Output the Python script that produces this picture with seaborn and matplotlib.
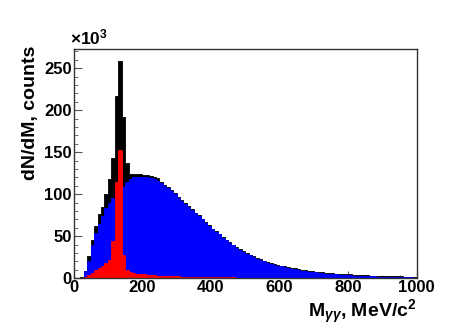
import pandas as pd
import matplotlib
matplotlib.use("Agg")
import matplotlib.pyplot as plt
from matplotlib.ticker import MultipleLocator
import seaborn as sns

# 10 MeV bins from 0 to 1000 MeV/c^2, counts in units of 10^3
bin_edges = list(range(0, 1001, 10))

total = [
    0, 0, 1, 9, 26, 45, 62, 76, 85, 100,
    118, 143, 217, 259, 192, 137, 124, 124, 124, 124,
    123, 123, 122, 121, 119, 115, 111, 108, 105, 101,
    97, 93, 89, 86, 82, 78, 75, 71, 67, 63,
    59, 56, 53, 49, 46, 43, 40, 37, 35, 32,
    30, 28, 26, 24, 22.5, 21, 19.5, 18, 17, 16,
    15, 14, 13, 12, 11.5, 10.8, 10.1, 9.5, 8.9, 8.3,
    7.8, 7.3, 6.9, 6.5, 6.1, 5.8, 5.5, 5.2, 4.9, 4.6,
    4.4, 4.1, 3.9, 3.7, 3.5, 3.3, 3.1, 3.0, 2.8, 2.7,
    2.5, 2.4, 2.3, 2.2, 2.1, 2.0, 1.9, 1.8, 1.7, 1.6,
]

background = [
    0, 0, 0.5, 9, 21, 40, 54, 65, 74, 83,
    89, 95, 101, 105, 109, 115, 118, 120, 121, 121,
    120, 120, 119, 118, 116, 113, 110, 107, 104, 100,
    96, 92, 88, 85, 81, 77, 74, 70, 66, 62,
    58, 55, 52, 48, 45, 42, 39, 36, 34, 31,
    29, 27, 25, 23, 21.5, 20, 18.5, 17, 16, 15,
    14, 13, 12, 11, 10.5, 9.8, 9.1, 8.5, 7.9, 7.3,
    6.8, 6.3, 5.9, 5.5, 5.1, 4.8, 4.5, 4.2, 3.9, 3.6,
    3.4, 3.1, 2.9, 2.7, 2.5, 2.3, 2.1, 2.0, 1.8, 1.7,
    1.6, 1.5, 1.4, 1.3, 1.2, 1.1, 1.0, 0.9, 0.8, 0.7,
]

signal = [
    0, 0, 0.5, 1, 3.5, 6, 9.5, 12, 14, 18,
    21.5, 44, 115, 153, 28, 10, 7, 6, 5, 5,
    4.5, 4, 4, 3.5, 3, 3, 2.5, 2.5, 2, 2,
    2, 1.8, 1.7, 1.6, 1.5, 1.4, 1.3, 1.2, 1.2, 1.1,
    1.0, 1.0, 0.9, 0.9, 0.8, 0.8, 0.8, 0.7, 0.7, 0.7,
    0.6, 0.6, 0.6, 0.5, 0.5, 0.5, 0.5, 0.4, 0.4, 0.4,
    0.4, 0.4, 0.3, 0.3, 0.3, 0.3, 0.3, 0.3, 0.3, 0.3,
    0.3, 0.3, 0.3, 0.3, 0.3, 0.3, 0.3, 0.3, 0.3, 0.3,
    0.3, 0.3, 0.3, 0.3, 0.3, 0.3, 0.3, 0.3, 0.3, 0.3,
    0.3, 0.3, 0.3, 0.3, 0.3, 0.3, 0.3, 0.3, 0.3, 0.3,
]

centers = [e + 5 for e in bin_edges[:-1]]

sns.set_style("ticks")
plt.rcParams["font.family"] = ["Liberation Sans", "DejaVu Sans"]
plt.rcParams["font.weight"] = "bold"
plt.rcParams["text.color"] = "black"
plt.rcParams["mathtext.fontset"] = "custom"
plt.rcParams["mathtext.rm"] = "Liberation Sans:bold"
plt.rcParams["mathtext.it"] = "Liberation Sans:italic:bold"
plt.rcParams["mathtext.bf"] = "Liberation Sans:bold"

fig = plt.figure(figsize=(4.63, 3.28), dpi=100)
fig.subplots_adjust(left=0.159, right=0.9, bottom=0.152, top=0.851)
ax = fig.add_subplot(111)

for vals, col in [(total, "black"), (background, "#0000ff"), (signal, "#ff0000")]:
    df = pd.DataFrame({"m": centers, "w": vals})
    sns.histplot(data=df, x="m", weights="w", bins=bin_edges, element="step",
                 fill=True, color=col, edgecolor=col, alpha=1, linewidth=0.6, ax=ax)

ax.set_xlim(0, 1000)
ax.set_ylim(0, 273)
ax.xaxis.set_major_locator(MultipleLocator(200))
ax.xaxis.set_minor_locator(MultipleLocator(50))
ax.yaxis.set_major_locator(MultipleLocator(50))
ax.yaxis.set_minor_locator(MultipleLocator(10))
ax.tick_params(axis="both", which="both", direction="in", labelsize=12,
               top=False, right=False, color="#555555", labelcolor="black")
ax.tick_params(axis="y", which="major", length=6, pad=1.5)
ax.tick_params(axis="y", which="minor", length=3)
ax.tick_params(axis="x", which="major", length=5, pad=1.5)
ax.tick_params(axis="x", which="minor", length=2.5)
for lab in ax.get_xticklabels() + ax.get_yticklabels():
    lab.set_fontweight("bold")
for sp in ax.spines.values():
    sp.set_visible(True)
    sp.set_linewidth(1.0)
    sp.set_color("#333333")

ax.set_ylabel("dN/dM, counts", fontsize=14, fontweight="bold", color="black")
ax.yaxis.set_label_coords(-0.10, 1.015)
ax.yaxis.label.set_horizontalalignment("right")
ax.set_xlabel(r"M$_{\gamma\gamma}$, MeV/c$^{2}$", fontsize=14, fontweight="bold",
              color="black")
ax.xaxis.set_label_coords(1.0, -0.085)
ax.xaxis.label.set_horizontalalignment("right")
ax.xaxis.label.set_verticalalignment("top")
ax.text(-0.01, 1.005, r"$\times$10$^{3}$", transform=ax.transAxes,
        fontsize=12.5, fontweight="bold", ha="left", va="bottom")

fig.savefig("out.png", dpi=100)
